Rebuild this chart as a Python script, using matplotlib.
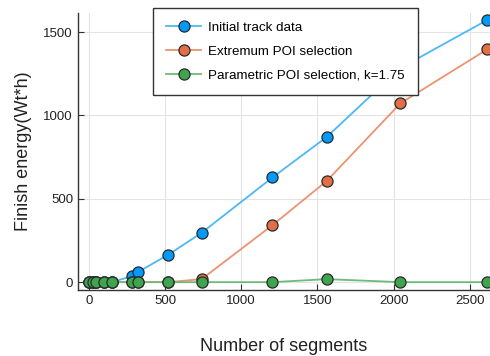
import matplotlib.pyplot as plt
import numpy as np

plt.rcParams['font.family'] = ['Liberation Sans', 'DejaVu Sans']

# Nombre de segments (commun aux trois séries)
segments = [0, 25, 50, 100, 150, 280, 325, 520, 740, 1205, 1560, 2045, 2615]

# Énergie finale (Wt*h)
initial = [0, 0, 0, 0, 0, 35, 62, 164, 296, 628, 870, 1285, 1573]
extremum = [0, 0, 0, 0, 0, 0, 0, 0, 18, 342, 606, 1073, 1397]
parametrique = [0, 0, 0, 0, 0, 0, 0, 0, 0, 0, 18, 0, 0]

labels = ['Initial track data', 'Extremum POI selection', 'Parametric POI selection, k=1.75']
couleurs = ['#009AFA', '#E36F47', '#3EA44E']
couleurs_lignes = ['#4DB8F5', '#EB9373', '#6DBB78']

x_ticks = [0, 500, 1000, 1500, 2000, 2500]
y_ticks = [0, 500, 1000, 1500]

fig = plt.figure(figsize=(4.9, 3.56), dpi=100)
ax = fig.add_axes([0.159, 0.185, 0.841, 0.778])

for serie, lab, c, cl in zip([initial, extremum, parametrique], labels, couleurs, couleurs_lignes):
    ax.plot(segments, serie, color=cl, lw=1.3, zorder=2)
    ax.plot(segments, serie, 'o', color=c, ms=8, mec='#2a2a2a', mew=0.9, zorder=3)

# Légende (lignes + marqueurs)
handles = [plt.Line2D([], [], color=cl, lw=1.3, marker='o', mfc=c, mec='#2a2a2a', ms=8, mew=0.9)
           for c, cl in zip(couleurs, couleurs_lignes)]
leg = ax.legend(handles, labels, loc='upper left', bbox_to_anchor=(0.182, 1.018),
                fontsize=9.6, frameon=True, fancybox=False, framealpha=1,
                edgecolor='#333333', handlelength=2.6, handletextpad=0.5,
                borderpad=1.0, labelspacing=0.85, borderaxespad=0)
leg.get_frame().set_linewidth(1.0)
leg.set_zorder(5)

ax.set_xlim(-72, 2633)
ax.set_ylim(-48, 1614)
ax.set_xticks(x_ticks)
ax.set_yticks(y_ticks)
ax.grid(True, color='#e4e4e4', lw=0.8)
ax.set_axisbelow(True)
ax.tick_params(direction='in', length=4, labelsize=9.5, colors='#333333', labelcolor='#222222')
for s in ['top', 'right']:
    ax.spines[s].set_visible(False)
for s in ['left', 'bottom']:
    ax.spines[s].set_color('#333333')
    ax.spines[s].set_linewidth(1.0)

ax.set_xlabel('Number of segments', fontsize=13, color='#222222', labelpad=22)
ax.set_ylabel('Finish energy(Wt*h)', fontsize=13, color='#222222', labelpad=8)

plt.savefig('out.png', dpi=100)
